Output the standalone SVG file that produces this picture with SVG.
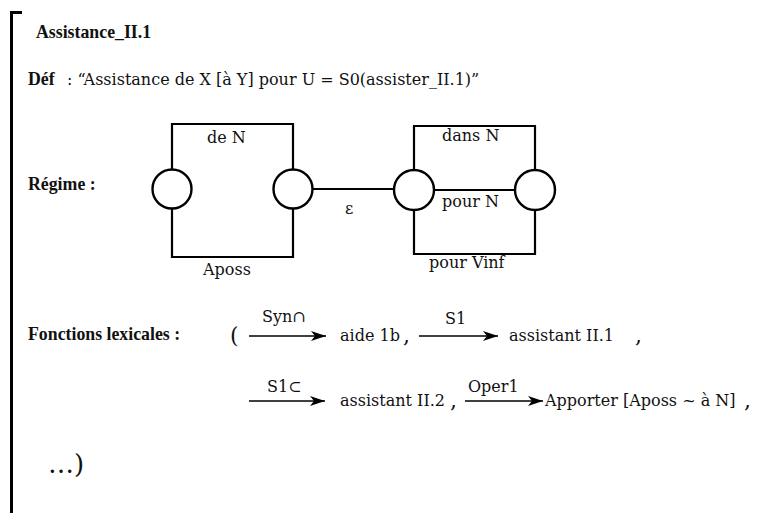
<svg xmlns="http://www.w3.org/2000/svg" width="764" height="513" viewBox="0 0 764 513">
<style>
text{font-family:"DejaVu Serif","Liberation Serif",serif;font-size:16px;fill:#111}
.b{font-family:"Liberation Serif","DejaVu Serif",serif;font-weight:bold;font-size:17.8px}
.box{fill:none;stroke:#000;stroke-width:2.2}
.node{fill:#fff;stroke:#000;stroke-width:2.4}
.arr{stroke:#000;stroke-width:1.4;fill:none;marker-end:url(#ah)}
.big{font-size:22px}
.dots{font-size:26px}
</style>
<defs>
<marker id="ah" markerUnits="userSpaceOnUse" markerWidth="16" markerHeight="10" refX="15" refY="5" orient="auto">
<path d="M0,0 L15,5 L0,10 L4,5 Z" fill="#000"/>
</marker>
</defs>
<rect width="764" height="513" fill="#fff"/>
<path d="M11.5,513 V12.5 H22" fill="none" stroke="#000" stroke-width="3"/>
<text class="b" x="36" y="38">Assistance_II.1</text>
<text class="b" x="28" y="85">Déf</text>
<text x="67" y="85">:  “Assistance de X [à Y] pour U = S0(assister_II.1)”</text>
<text class="b" x="28" y="190">Régime :</text>
<g id="connectors">
<path class="box" d="M172,169 V124 H293 V169"/>
<path class="box" d="M172,209 V257 H293 V209"/>
<path class="box" d="M313,189 H394"/>
<path class="box" d="M414,170 V126 H535 V170"/>
<path class="box" d="M414,210 V254 H535 V210"/>
<path class="box" d="M434,190 H515"/>
</g>
<g id="n1"><circle class="node" cx="172" cy="189" r="19.5"/></g>
<g id="n2"><circle class="node" cx="293" cy="189" r="19.5"/></g>
<g id="n3"><circle class="node" cx="414" cy="190" r="20"/></g>
<g id="n4"><circle class="node" cx="535" cy="190" r="20"/></g>
<text x="207" y="143">de N</text>
<text x="203" y="275">Aposs</text>
<text x="345" y="214">ε</text>
<text x="442" y="141">dans N</text>
<text x="442" y="207">pour N</text>
<text x="429" y="268">pour Vinf</text>
<text class="b" x="28" y="340">Fonctions lexicales :</text>
<text class="big" x="230" y="343">(</text>
<g id="fl">
<line class="arr" x1="249" y1="336" x2="326" y2="336"/>
<line class="arr" x1="419" y1="336" x2="498" y2="336"/>
<line class="arr" x1="249" y1="401" x2="325" y2="401"/>
<line class="arr" x1="465" y1="401" x2="543" y2="401"/>
</g>
<text x="262" y="322">Syn∩</text>
<text x="340" y="341">aide 1b</text>
<text class="big" x="403" y="343">,</text>
<text x="445" y="324">S1</text>
<text x="509" y="341">assistant II.1</text>
<text class="big" x="635" y="343">,</text>
<text x="267" y="392">S1⊂</text>
<text x="340" y="406">assistant II.2</text>
<text class="big" x="450" y="408">,</text>
<text x="468" y="392">Oper1</text>
<text x="545" y="406">Apporter [Aposs ~ à N]</text>
<text class="big" x="744" y="408">,</text>
<text class="dots" x="48" y="473">…)</text>
</svg>
